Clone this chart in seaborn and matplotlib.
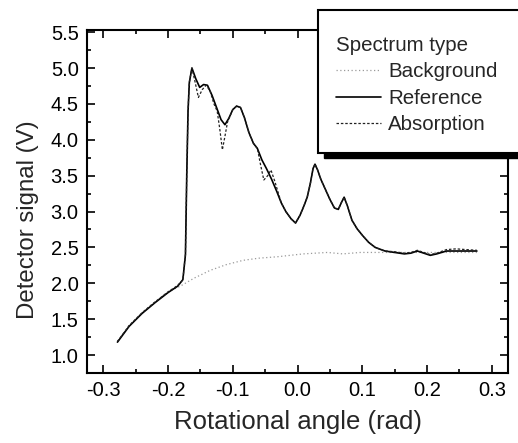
import numpy as np
import pandas as pd
import matplotlib
matplotlib.use("Agg")
import matplotlib.pyplot as plt
from matplotlib.patches import Rectangle
from matplotlib.lines import Line2D
import seaborn as sns

# ---- data ----
ref_x = [-0.278, -0.26, -0.24, -0.22, -0.20, -0.185, -0.177, -0.173, -0.171, -0.169,
         -0.167, -0.163, -0.157, -0.151, -0.145, -0.139, -0.132, -0.125, -0.118, -0.112,
         -0.106, -0.100, -0.094, -0.088, -0.082, -0.075, -0.068, -0.062, -0.055, -0.048,
         -0.040, -0.032, -0.025, -0.018, -0.010, -0.003, 0.004, 0.010, 0.015, 0.020,
         0.024, 0.027, 0.031, 0.036, 0.042, 0.050, 0.057, 0.063, 0.068, 0.072,
         0.077, 0.084, 0.092, 0.101, 0.110, 0.120, 0.135, 0.150, 0.165, 0.175,
         0.185, 0.195, 0.205, 0.215, 0.230, 0.245, 0.260, 0.277]
ref_y = [1.18, 1.40, 1.58, 1.73, 1.87, 1.96, 2.05, 2.40, 3.50, 4.40,
         4.80, 5.00, 4.85, 4.73, 4.77, 4.76, 4.62, 4.45, 4.28, 4.21,
         4.30, 4.42, 4.47, 4.45, 4.31, 4.10, 3.95, 3.88, 3.72, 3.60,
         3.45, 3.28, 3.12, 3.00, 2.90, 2.84, 2.95, 3.08, 3.20, 3.40,
         3.60, 3.66, 3.58, 3.45, 3.33, 3.17, 3.05, 3.03, 3.13, 3.20,
         3.08, 2.88, 2.76, 2.66, 2.57, 2.50, 2.45, 2.43, 2.41, 2.42,
         2.45, 2.42, 2.39, 2.41, 2.45, 2.45, 2.45, 2.45]

abs_x = [-0.278, -0.26, -0.24, -0.22, -0.20, -0.185, -0.177, -0.173, -0.171, -0.169,
         -0.167, -0.163, -0.158, -0.153, -0.147, -0.141, -0.135, -0.129, -0.124, -0.120,
         -0.116, -0.112, -0.108, -0.100, -0.094, -0.088, -0.082, -0.075, -0.068, -0.062,
         -0.057, -0.052, -0.046, -0.041, -0.035, -0.025, -0.018, -0.010, -0.003, 0.004,
         0.010, 0.015, 0.020, 0.024, 0.027, 0.031, 0.036, 0.042, 0.050, 0.057,
         0.063, 0.068, 0.072, 0.077, 0.084, 0.092, 0.101, 0.110, 0.120, 0.135,
         0.150, 0.165, 0.175, 0.185, 0.195, 0.205, 0.215, 0.230, 0.245, 0.260, 0.277]
abs_y = [1.19, 1.41, 1.59, 1.74, 1.88, 1.97, 2.05, 2.40, 3.50, 4.40,
         4.80, 5.00, 4.80, 4.59, 4.70, 4.76, 4.68, 4.50, 4.40, 4.15,
         3.86, 4.05, 4.25, 4.42, 4.47, 4.45, 4.31, 4.10, 3.95, 3.88,
         3.65, 3.44, 3.50, 3.58, 3.42, 3.12, 3.00, 2.90, 2.84, 2.95,
         3.08, 3.20, 3.40, 3.60, 3.66, 3.58, 3.45, 3.33, 3.17, 3.05,
         3.03, 3.13, 3.20, 3.08, 2.88, 2.76, 2.66, 2.57, 2.50, 2.45,
         2.44, 2.42, 2.43, 2.46, 2.43, 2.40, 2.42, 2.47, 2.48, 2.47, 2.46]

bg_x = [-0.278, -0.26, -0.24, -0.22, -0.20, -0.181, -0.16, -0.135, -0.11, -0.084,
        -0.06, -0.031, 0.009, 0.046, 0.070, 0.097, 0.14, 0.20, 0.24, 0.277]
bg_y = [1.19, 1.41, 1.59, 1.74, 1.88, 1.96, 2.07, 2.18, 2.26, 2.32,
        2.35, 2.37, 2.41, 2.43, 2.41, 2.43, 2.43, 2.43, 2.43, 2.43]

series_names = ["Background", "Reference", "Absorption"]
legend_title = "Spectrum type"
x_label = "Rotational angle (rad)"
y_label = "Detector signal (V)"
x_ticks = [-0.3, -0.2, -0.1, 0.0, 0.1, 0.2, 0.3]
y_ticks = [1.0, 1.5, 2.0, 2.5, 3.0, 3.5, 4.0, 4.5, 5.0, 5.5]

df = pd.concat([
    pd.DataFrame({"x": bg_x, "y": bg_y, "type": series_names[0]}),
    pd.DataFrame({"x": ref_x, "y": ref_y, "type": series_names[1]}),
    pd.DataFrame({"x": abs_x, "y": abs_y, "type": series_names[2]}),
], ignore_index=True)

sns.set_theme(style="ticks")
plt.rcParams["font.family"] = ["Liberation Sans", "DejaVu Sans"]

W, H = 518, 443
fig = plt.figure(figsize=(W / 100, H / 100), dpi=100)
ax = fig.add_axes([87 / W, 1 - 373 / H, (508 - 87) / W, (373 - 30) / H])

styles = {
    "Background": dict(color="#9a9a9a", lw=0.9, ls=(0, (1, 2))),
    "Reference": dict(color="black", lw=1.2, ls="-"),
    "Absorption": dict(color="#222222", lw=0.9, ls=(0, (2, 1.5))),
}
for name in series_names:
    sub = df[df["type"] == name]
    st = styles[name]
    sns.lineplot(data=sub, x="x", y="y", ax=ax, sort=False, estimator=None,
                 color=st["color"], linewidth=st["lw"], linestyle=st["ls"])

ax.set_xlim(-0.325, 0.325)
ax.set_ylim(0.75, 5.53)
ax.set_xticks(x_ticks)
ax.set_xticklabels([f"{v:.1f}" for v in x_ticks])
ax.set_yticks(y_ticks)
ax.set_yticklabels([f"{v:.1f}" for v in y_ticks])
ax.set_xticks(np.arange(-0.3, 0.31, 0.05), minor=True)
ax.set_yticks(np.arange(1.0, 5.51, 0.25), minor=True)
ax.tick_params(which="both", direction="in", top=True, right=True, labelsize=14.5, pad=6,
               width=1.2, colors="black")
ax.tick_params(which="major", length=6)
ax.tick_params(which="minor", length=3)
for s in ax.spines.values():
    s.set_linewidth(1.5)
    s.set_color("black")
    s.set_visible(True)
ax.set_xlabel(x_label, fontsize=18.5, labelpad=7)
ax.set_ylabel(y_label, fontsize=17.3)
ax.yaxis.set_label_coords(-0.114, (373 - 220) / 343)
ax.grid(False)
if ax.get_legend():
    ax.get_legend().remove()

# legend box with shadow (figure pixel coords)
def fx(px):
    return px / W
def fy(py):
    return 1 - py / H
fig.patches.append(Rectangle((fx(324), fy(158)), fx(220), 148 / H, transform=fig.transFigure,
                             facecolor="black", edgecolor="black", zorder=5))
fig.patches.append(Rectangle((fx(318), fy(153)), fx(220), 143 / H, transform=fig.transFigure,
                             facecolor="white", edgecolor="black", linewidth=1.5, zorder=6))

handles = [Line2D([], [], **{"color": styles[n]["color"], "linewidth": styles[n]["lw"],
                             "linestyle": styles[n]["ls"]}) for n in series_names]
leg = fig.legend(handles, series_names, title=legend_title, loc="upper left",
                 bbox_to_anchor=(fx(336), fy(36)), frameon=False, fontsize=14.8,
                 title_fontsize=14.8, handlelength=2.2, handletextpad=0.35,
                 labelspacing=0.36, borderpad=0, borderaxespad=0)
leg._legend_box.align = "left"
leg.set_zorder(10)

fig.savefig("out.png", dpi=100)
